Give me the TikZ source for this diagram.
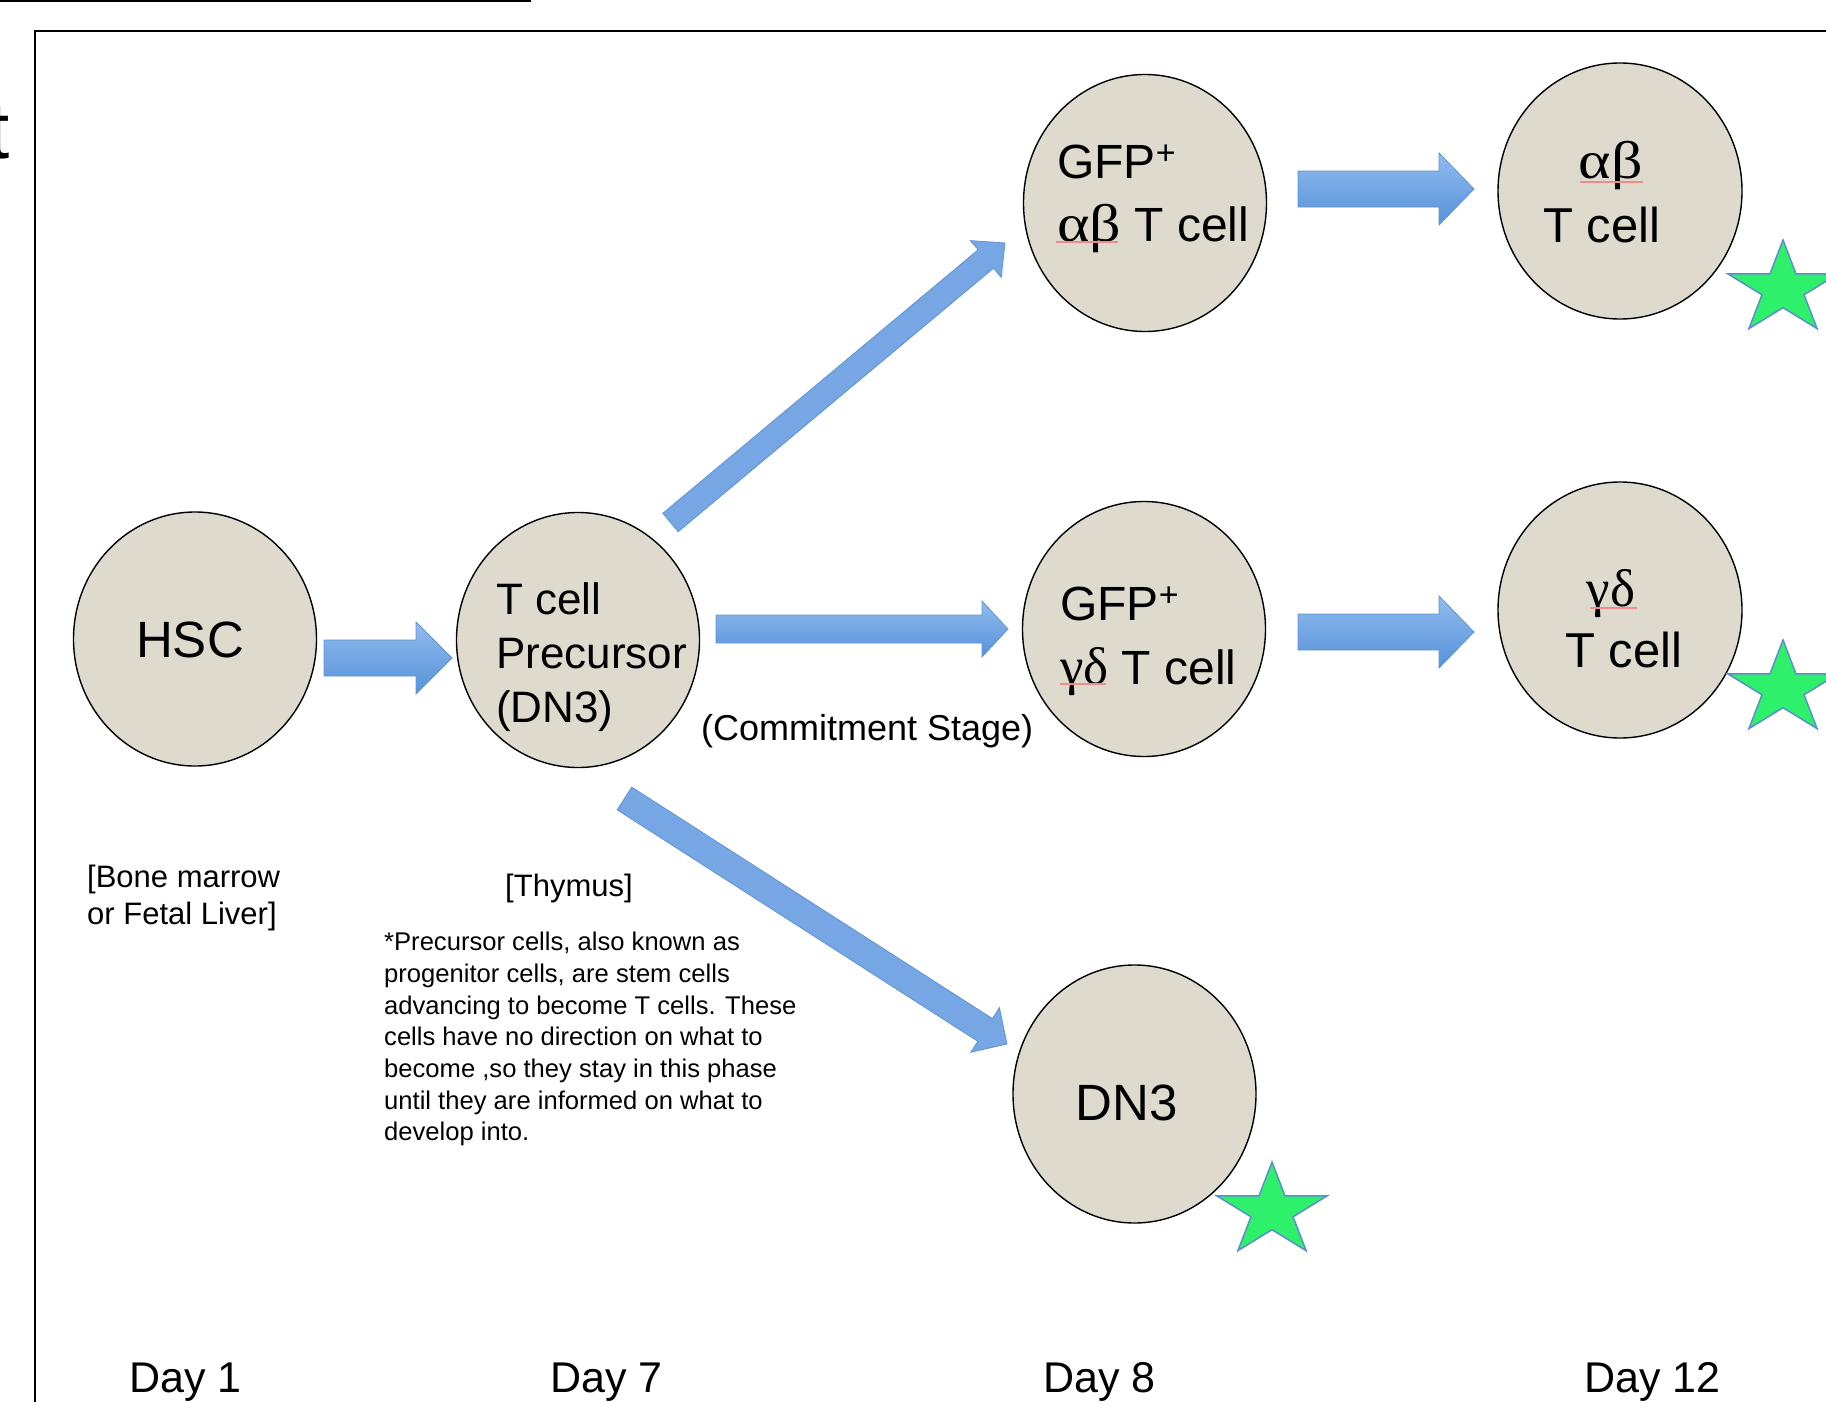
\documentclass[tikz,border=0pt]{standalone}
\usepackage{fontspec}
\setmainfont{Liberation Sans}
\newfontfamily\grk{Liberation Serif}
\newfontfamily\grkw[FakeStretch=1.17]{Liberation Serif}
\usetikzlibrary{shapes.geometric,calc}
\definecolor{cellfill}{RGB}{222,218,205}
\definecolor{arrowtop}{RGB}{145,187,238}
\definecolor{arrowbot}{RGB}{86,146,217}
\definecolor{arrowmid}{RGB}{118,166,228}
\definecolor{arrowline}{RGB}{98,148,210}
\definecolor{starfill}{RGB}{46,240,106}
\definecolor{starline}{RGB}{91,143,207}
\definecolor{spellred}{RGB}{236,140,140}
\tikzset{
  cell/.style={ellipse, draw=black, line width=1.4pt, fill=cellfill,
    minimum width=243pt, minimum height=256pt, inner sep=0pt},
  lbl/.style={inner sep=0pt, text=black},
  blk/.style={draw=arrowline, line width=0.8pt, top color=arrowtop, bottom color=arrowbot},
  blkd/.style={draw=arrowline, line width=0.8pt, fill=arrowmid},
  starry/.style={draw=starline, line width=1.5pt, fill=starfill, line join=miter},
  spell/.style={draw=spellred, line width=1.2pt},
  frameline/.style={draw=black, line width=2.4pt}
}
% block arrow: #1 style, #2 from, #3 to, #4 shaft half width, #5 head half width, #6 head length
\newcommand\blkarrow[6]{%
  \path[#1] let \p1=(#2), \p2=(#3), \p3=($(\p2)!#6pt!(\p1)$) in
    ($(\p1)!#4pt!90:(\p2)$) -- ($(\p3)!#4pt!90:(\p2)$) -- ($(\p3)!#5pt!90:(\p2)$)
    -- (\p2) -- ($(\p3)!#5pt!-90:(\p2)$) -- ($(\p3)!#4pt!-90:(\p2)$)
    -- ($(\p1)!#4pt!-90:(\p2)$) -- cycle;}
\newcommand\starat[1]{%
  \draw[starry, shift={(#1)}, xscale=58, yscale=-49]
    (90:1) -- (126:0.382) -- (162:1) -- (198:0.382) -- (234:1) -- (270:0.382)
    -- (306:1) -- (342:0.382) -- (18:1) -- (54:0.382) -- cycle;}
\newcommand\sps{\raisebox{14pt}{\fontsize{34}{34}\selectfont +}}
\begin{document}
\begin{tikzpicture}[x=1pt, y=-1pt]
\useasboundingbox (0,0) rectangle (1826,1402);
\clip (0,0) rectangle (1826,1402);
\fill[white] (0,0) rectangle (1826,1402);

% frame and top rule
\draw[frameline] (0,1.2) -- (531,1.2);
\draw[frameline] (35,1500) -- (35,31) -- (1900,31);
\node[lbl, anchor=base west, font=\fontsize{80}{80}\selectfont] (tchar) at (-13,158) {t};

% cells
\node[cell, minimum height=254pt] (hsc) at (195,639) {};
\node[cell, minimum height=255pt] (prec) at (578,640) {};
\node[cell, minimum height=257pt] (gab) at (1145,203) {};
\node[cell, minimum height=255pt] (ggd) at (1144,629) {};
\node[cell, minimum width=244pt] (ab) at (1620,191) {};
\node[cell, minimum width=244pt] (gd) at (1620,610) {};
\node[cell, minimum height=258pt] (dn3) at (1134.5,1094) {};

% cell texts
\node[lbl, font=\fontsize{51}{51}\selectfont] (hsct) at (190,640) {HSC};
\node[lbl, align=left, anchor=north west, font=\fontsize{44}{54}\selectfont] (prect) at (496,582) {T cell\\Precursor\\(DN3)};
\node[lbl, align=left, anchor=north west, font=\fontsize{48}{63}\selectfont] (gabt) at (1057,145)
  {GFP\sps\\{\grkw\fontsize{53}{63}\selectfont αβ} T cell};
\node[lbl, align=left, anchor=north west, font=\fontsize{48}{64}\selectfont] (ggdt) at (1060,587)
  {GFP\sps\\{\grk\fontsize{53}{64}\selectfont γδ} T cell};
\node[lbl, align=center, anchor=south, font=\fontsize{49}{64}\selectfont] (abt) at (1602,243)
  {\hspace*{18pt}{\grkw\fontsize{53}{64}\selectfont αβ}\\T cell};
\node[lbl, align=center, anchor=south, font=\fontsize{49}{61}\selectfont] (gdt) at (1624,668)
  {{\grk\fontsize{53}{61}\selectfont γδ}\hspace*{26pt}\\T cell};
\node[lbl, font=\fontsize{51}{51}\selectfont] (dn3t) at (1127,1103) {DN3};

% spell-check underlines
\draw[spell] (1580,182) -- (1643,182);
\draw[spell] (1590,608) -- (1637,608);
\draw[spell] (1056,242) -- (1118,242);
\draw[spell] (1060,684) -- (1106,684);

% arrows
\coordinate (a1s) at (324,658);   \coordinate (a1e) at (452,658);
\coordinate (a2s) at (716,629);   \coordinate (a2e) at (1008,629);
\coordinate (a3s) at (1298,632);  \coordinate (a3e) at (1474,632);
\coordinate (a4s) at (1298,189);  \coordinate (a4e) at (1474,189);
\coordinate (a5s) at (670.5,522.5); \coordinate (a5e) at (1005,243);
\coordinate (a6s) at (624.5,798.5); \coordinate (a6e) at (1007,1044);
\blkarrow{blk}{a1s}{a1e}{18}{36}{36}
\blkarrow{blk}{a2s}{a2e}{14}{28}{26}
\blkarrow{blk}{a3s}{a3e}{18}{36}{35}
\blkarrow{blk}{a4s}{a4e}{18}{36}{35}
\blkarrow{blkd}{a5s}{a5e}{12}{24}{25}
\blkarrow{blkd}{a6s}{a6e}{13.5}{26.5}{26}

% stars
\starat{1783,289}
\starat{1783,689}
\starat{1272,1211}

% annotations
\node[lbl, align=left, anchor=north west, font=\fontsize{31}{37}\selectfont] (bm) at (87,865)
  {[Bone marrow\\or Fetal Liver]};
\node[lbl, anchor=base west, font=\fontsize{31}{31}\selectfont] (thy) at (505,896) {[Thymus]};
\node[lbl, anchor=base west, font=\fontsize{36}{36}\selectfont] (commit) at (701,740) {(Commitment Stage)};
\node[lbl, align=left, anchor=north west, font=\fontsize{25.6}{31.7}\selectfont] (note) at (384,932)
  {*Precursor cells, also known as\\progenitor cells, are stem cells\\advancing to become T cells. These\\cells have no direction on what to\\become ,so they stay in this phase\\until they are informed on what to\\develop into.};

% days
\node[lbl, anchor=base west, font=\fontsize{43}{43}\selectfont] (d1) at (129,1392) {Day 1};
\node[lbl, anchor=base west, font=\fontsize{43}{43}\selectfont] (d7) at (550,1392) {Day 7};
\node[lbl, anchor=base west, font=\fontsize{43}{43}\selectfont] (d8) at (1043,1392) {Day 8};
\node[lbl, anchor=base west, font=\fontsize{43}{43}\selectfont] (d12) at (1584,1392) {Day 12};
\end{tikzpicture}
\end{document}
